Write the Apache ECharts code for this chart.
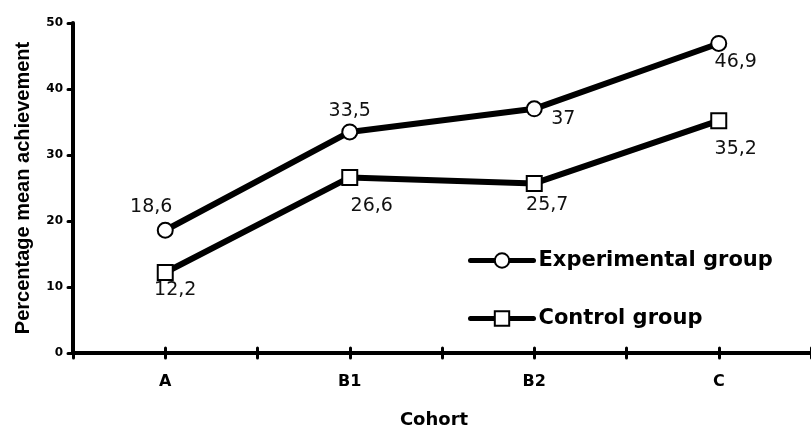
<!DOCTYPE html>
<html>
<head>
<meta charset="utf-8">
<script src="https://cdn.jsdelivr.net/npm/echarts@6/dist/echarts.min.js"></script>
<style>html,body{margin:0;padding:0;background:#fff}#c{width:811px;height:434px}</style>
</head>
<body>
<div id="c"></div>
<script>
const categories = ['A', 'B1', 'B2', 'C'];
const experimental = [18.6, 33.5, 37, 46.9];
const control = [12.2, 26.6, 25.7, 35.2];
const yTicks = [0, 10, 20, 30, 40, 50];

// label placement (style only)
const expOffsets = [[-14, -23], [0, -21], [29, 10], [17, 19]];
const ctrlOffsets = [[10, 18], [22, 29], [13, 22], [17, 28]];

function fmt(v) { return String(v).replace('.', ','); }
function withLabels(vals, offs) {
  return vals.map((v, i) => ({
    value: v,
    label: { show: true, position: 'inside', offset: offs[i], formatter: fmt(v),
      color: '#111', fontFamily: 'DejaVu Sans', fontSize: 19 }
  }));
}

const tickStyle = { color: '#000', width: 3, cap: 'round' };
function extraX(align, inside) {
  return { type: 'category', data: categories, gridIndex: 0, position: 'bottom',
    axisLine: { show: false }, axisLabel: { show: false },
    axisTick: { show: true, alignWithLabel: align, inside: inside, length: 5, lineStyle: tickStyle },
    splitLine: { show: false } };
}

const chart = echarts.init(document.getElementById('c'));
chart.setOption({
  animation: false,
  backgroundColor: '#fff',
  grid: { left: 73, right: 0, top: 23, bottom: 77 },
  legend: {
    orient: 'vertical', left: 463, top: 245, itemWidth: 63, itemHeight: 18, itemGap: 37,
    lineStyle: { width: 5, cap: 'round', color: '#000' },
    itemStyle: { color: '#fff', borderColor: '#000', borderWidth: 2 },
    textStyle: { fontFamily: 'DejaVu Sans', fontWeight: 'bold', fontSize: 21, color: '#000' },
    data: ['Experimental group', 'Control group']
  },
  xAxis: [
    { type: 'category', data: categories,
      name: 'Cohort', nameLocation: 'middle', nameGap: 58,
      nameTextStyle: { fontFamily: 'DejaVu Sans', fontWeight: 'bold', fontSize: 18, color: '#000', padding: [0, 16, 0, 0] },
      axisLine: { lineStyle: { color: '#000', width: 4 } },
      axisTick: { show: true, length: 5, lineStyle: tickStyle },
      axisLabel: { margin: 21, fontFamily: 'DejaVu Sans', fontWeight: 'bold', fontSize: 16, color: '#000' } },
    extraX(true, false), extraX(false, true), extraX(true, true)
  ],
  yAxis: {
    type: 'value', min: yTicks[0], max: yTicks[yTicks.length - 1], interval: 10,
    name: 'Percentage mean achievement', nameLocation: 'middle', nameGap: 40,
    nameTextStyle: { fontFamily: 'Liberation Sans', fontWeight: 'bold', fontSize: 20, color: '#000' },
    axisLine: { show: true, lineStyle: { color: '#000', width: 4 } },
    axisTick: { show: true, length: 5, lineStyle: tickStyle },
    axisLabel: { margin: 10, fontFamily: 'DejaVu Sans', fontWeight: 'bold', fontSize: 12, color: '#000' },
    splitLine: { show: false }
  },
  series: [
    { name: 'Experimental group', type: 'line', data: withLabels(experimental, expOffsets),
      symbol: 'circle', symbolSize: 15, showAllSymbol: true,
      lineStyle: { color: '#000', width: 6 },
      itemStyle: { color: '#fff', borderColor: '#000', borderWidth: 2 }, z: 3 },
    { name: 'Control group', type: 'line', data: withLabels(control, ctrlOffsets),
      symbol: 'rect', symbolSize: 15, showAllSymbol: true,
      lineStyle: { color: '#000', width: 6 },
      itemStyle: { color: '#fff', borderColor: '#000', borderWidth: 2 }, z: 3 }
  ]
});
</script>
</body>
</html>
